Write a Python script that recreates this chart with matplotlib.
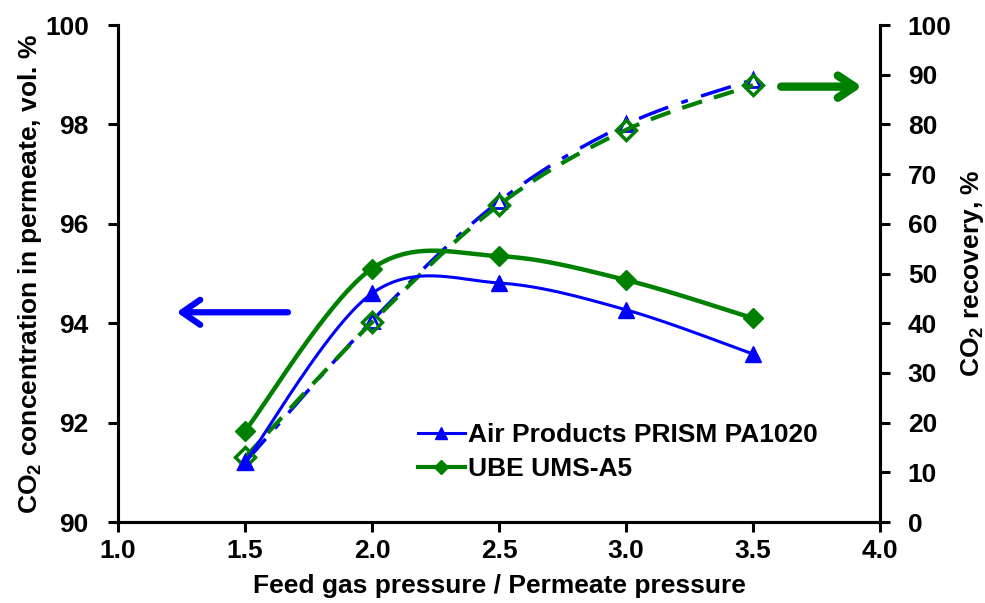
import numpy as np
from matplotlib import pyplot as plt

plt.rcParams['font.family'] = ['Liberation Sans', 'DejaVu Sans']
plt.rcParams['font.weight'] = 'bold'

pressure_ratio = [1.5, 2.0, 2.5, 3.0, 3.5]
conc_prism = [91.2, 94.6, 94.81, 94.27, 93.38]
conc_ube = [91.83, 95.1, 95.35, 94.87, 94.1]
rec_prism = [12.0, 40.5, 64.5, 80.0, 89.0]
rec_ube = [13.0, 40.2, 63.8, 78.9, 87.9]

label_prism = 'Air Products PRISM PA1020'
label_ube = 'UBE UMS-A5'
blue = '#0000ff'
green = '#008000'
fs = 19


def smooth(x, y, n=40):
    # excel-like smoothed line: catmull-rom segments as cubic beziers
    x = np.asarray(x, float)
    y = np.asarray(y, float)
    px = np.concatenate([[x[0]], x, [x[-1]]])
    py = np.concatenate([[y[0]], y, [y[-1]]])
    xs, ys = [], []
    t = np.linspace(0, 1, n)
    for i in range(1, len(px) - 2):
        p0 = np.array([px[i - 1], py[i - 1]])
        p1 = np.array([px[i], py[i]])
        p2 = np.array([px[i + 1], py[i + 1]])
        p3 = np.array([px[i + 2], py[i + 2]])
        c1 = p1 + (p2 - p0) / 6
        c2 = p2 - (p3 - p1) / 6
        b = ((1 - t) ** 3)[:, None] * p1 + (3 * (1 - t) ** 2 * t)[:, None] * c1 \
            + (3 * (1 - t) * t ** 2)[:, None] * c2 + (t ** 3)[:, None] * p2
        xs.extend(b[:, 0])
        ys.extend(b[:, 1])
    return xs, ys


fig = plt.figure(figsize=(9.85, 6.03), dpi=100)
ax = fig.add_axes([0.1198, 0.1343, 0.7736, 0.8242])
ax2 = ax.twinx()

# recovery (right axis)
sx, sy = smooth(pressure_ratio, rec_prism)
ax2.plot(sx, sy, color=blue, lw=2.5, dashes=(9, 4, 2, 4))
ax2.plot(pressure_ratio, rec_prism, ls='none', marker='^', ms=10,
         mfc='white', mec=blue, mew=2)
sx, sy = smooth(pressure_ratio, rec_ube)
ax2.plot(sx, sy, color=green, lw=3, dashes=(5, 3))
ax2.plot(pressure_ratio, rec_ube, ls='none', marker='D', ms=10,
         mfc='none', mec=green, mew=2.5)

# concentration (left axis) drawn on top
ax.set_zorder(ax2.get_zorder() + 1)
ax.patch.set_visible(False)
sx, sy = smooth(pressure_ratio, conc_prism)
ax.plot(sx, sy, color=blue, lw=2.2)
ax.plot(pressure_ratio, conc_prism, ls='none', marker='^', ms=11, color=blue)
sx, sy = smooth(pressure_ratio, conc_ube)
ax.plot(sx, sy, color=green, lw=3.2)
ax.plot(pressure_ratio, conc_ube, ls='none', marker='D', ms=10, color=green)

h1, = ax.plot([], [], color=blue, lw=2.2, marker='^', ms=8)
h2, = ax.plot([], [], color=green, lw=3, marker='D', ms=7)
ax.legend([h1, h2], [label_prism, label_ube], loc='lower left',
          bbox_to_anchor=(0.362, 0.035), frameon=False, fontsize=fs,
          handlelength=1.8, handletextpad=0.1, labelspacing=0.37)

# arrows
ax.annotate('', xy=(1.22, 94.22), xytext=(1.68, 94.22),
            arrowprops=dict(arrowstyle='->, head_length=1.3, head_width=0.9',
                            color=blue, lw=4.5, capstyle='round'))
ax2.annotate('', xy=(3.94, 87.6), xytext=(3.6, 87.6),
             arrowprops=dict(arrowstyle='->, head_length=1.2, head_width=0.8',
                             color=green, lw=6, capstyle='round'))

ax.set_xlim(1.0, 4.0)
ax.set_ylim(90, 100)
ax2.set_ylim(0, 100)
ax.set_xticks(np.arange(1.0, 4.01, 0.5))
ax.set_xticklabels(['%.1f' % v for v in np.arange(1.0, 4.01, 0.5)])
ax.set_yticks(range(90, 101, 2))
ax2.set_yticks(range(0, 101, 10))

for a in (ax, ax2):
    a.spines['top'].set_visible(False)
    for s in ('left', 'right', 'bottom'):
        a.spines[s].set_linewidth(2.2)
    a.tick_params(width=2.2, length=7, labelsize=fs, direction='out')
ax.tick_params(axis='y', pad=14)
ax.tick_params(axis='x', pad=5.5)
ax2.tick_params(axis='y', pad=13)

ax.set_xlabel('Feed gas pressure / Permeate pressure', fontsize=fs,
              fontweight='bold', labelpad=8)
ax.set_ylabel(r'CO$_\mathregular{2}$ concentration in permeate, vol. %',
              fontsize=fs, fontweight='bold', labelpad=1)
ax2.set_ylabel(r'CO$_\mathregular{2}$ recovery, %', fontsize=fs,
               fontweight='bold', labelpad=5)

fig.savefig('out.png', dpi=100)
